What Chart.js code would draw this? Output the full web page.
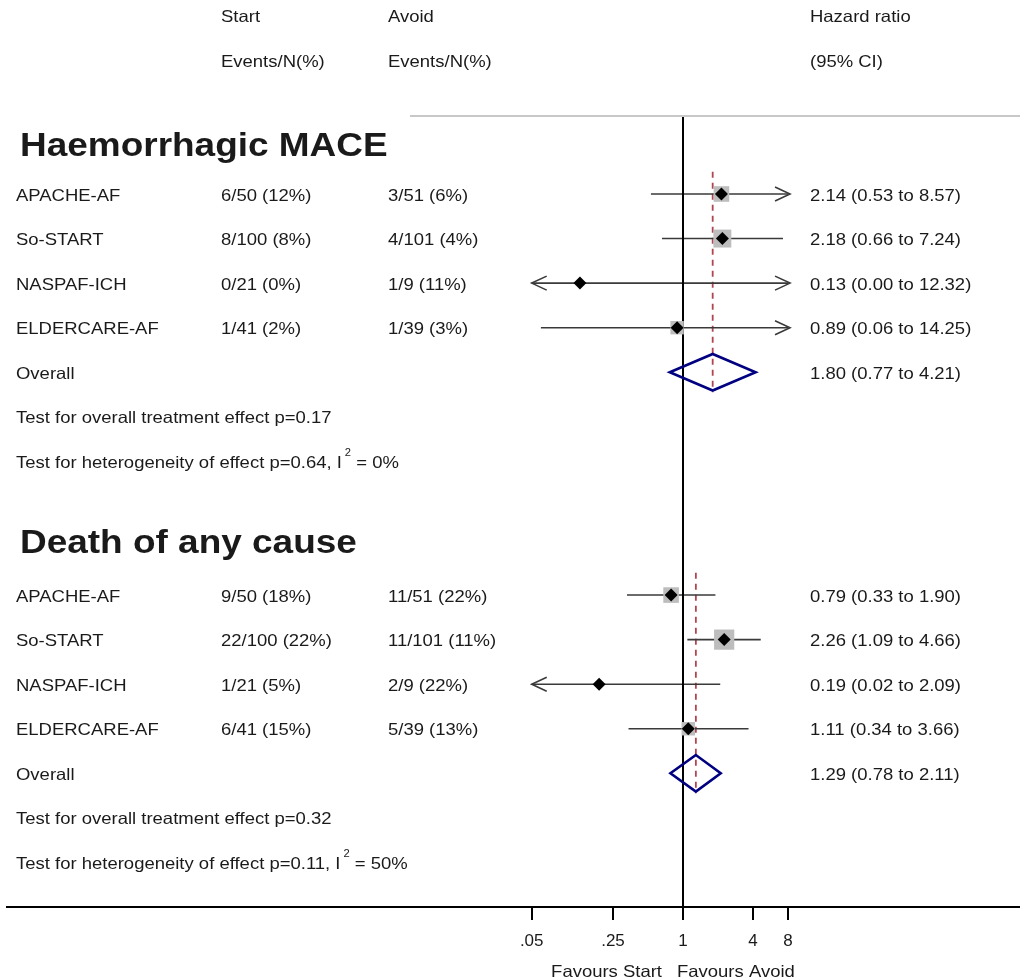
<!DOCTYPE html>
<html>
<head>
<meta charset="utf-8">
<script src="https://cdn.jsdelivr.net/npm/chart.js@4/dist/chart.umd.min.js"></script>
<style>
  html, body { margin: 0; padding: 0; background: #ffffff; }
  #wrap { width: 1020px; height: 980px; position: relative; }
</style>
</head>
<body>
<div id="wrap"><canvas id="forest" width="1020" height="980"></canvas></div>
<script>
// ---- Study data ----
const studies = ['APACHE-AF', 'So-START', 'NASPAF-ICH', 'ELDERCARE-AF'];

// Haemorrhagic MACE
const hmStart  = ['6/50 (12%)', '8/100 (8%)', '0/21 (0%)', '1/41 (2%)'];
const hmAvoid  = ['3/51 (6%)', '4/101 (4%)', '1/9 (11%)', '1/39 (3%)'];
const hmHR     = [2.14, 2.18, 0.13, 0.89];
const hmLo     = [0.53, 0.66, 0.00, 0.06];
const hmHi     = [8.57, 7.24, 12.32, 14.25];
const hmWeight = [31, 41, 4, 23];
const hmOverall = [1.80, 0.77, 4.21];          // estimate, lower, upper
const hmTests   = ['0.17', '0.64', '0%'];       // effect p, heterogeneity p, I²

// Death of any cause
const dStart  = ['9/50 (18%)', '22/100 (22%)', '1/21 (5%)', '6/41 (15%)'];
const dAvoid  = ['11/51 (22%)', '11/101 (11%)', '2/9 (22%)', '5/39 (13%)'];
const dHR     = [0.79, 2.26, 0.19, 1.11];
const dLo     = [0.33, 1.09, 0.02, 0.34];
const dHi     = [1.90, 4.66, 2.09, 3.66];
const dWeight = [31, 52, 4, 23];
const dOverall = [1.29, 0.78, 2.11];
const dTests   = ['0.32', '0.11', '50%'];

// Axis ticks
const tickValues = [0.05, 0.25, 1, 4, 8];
const tickLabels = ['.05', '.25', '1', '4', '8'];

// Column headers
const headStart = ['Start', 'Events/N(%)'];
const headAvoid = ['Avoid', 'Events/N(%)'];
const headHR    = ['Hazard ratio', '(95% CI)'];

// ---- Layout ----
const sections = [
  { title: 'Haemorrhagic MACE', titleRow: -1.1, base: 0, start: hmStart, avoid: hmAvoid,
    hr: hmHR, lo: hmLo, hi: hmHi, w: hmWeight, overall: hmOverall, tests: hmTests },
  { title: 'Death of any cause', titleRow: 7.8, base: 9, start: dStart, avoid: dAvoid,
    hr: dHR, lo: dLo, hi: dHi, w: dWeight, overall: dOverall, tests: dTests }
];

const CLIP_LO = tickValues[0];
const CLIP_HI = tickValues[tickValues.length - 1];
const Y_MIN = -4.3534, Y_MAX = 16;     // row units; 16 is the axis row
const X_MIN = 1.537e-6, X_MAX = 790.7;  // log scale limits
const DIAMOND_H = 0.41;
const FONT = '"Liberation Sans", Arial, Helvetica, sans-serif';
const TEXT_COLOR = '#1a1a1a';
const LINE_COLOR = '#3a3a3a';
const TEXT_SX = 1.12;                   // horizontal stretch of the table lettering
const TEXT_DY = 2;                      // optical centring of lettering on a row

const fmt = v => v.toFixed(2);

// ---- Datasets ----
const datasets = [];

// Line of no effect
datasets.push({
  label: 'null', showLine: true, data: [{ x: 1, y: -1.75 }, { x: 1, y: Y_MAX }],
  borderColor: '#000000', borderWidth: 2, pointRadius: 0, order: 2.5
});

const squarePts = [], squareRad = [], dotPts = [];

sections.forEach(s => {
  s.hr.forEach((v, i) => {
    const row = s.base + i;
    datasets.push({
      label: 'ci', showLine: true,
      data: [{ x: Math.max(s.lo[i], CLIP_LO), y: row }, { x: Math.min(s.hi[i], CLIP_HI), y: row }],
      borderColor: LINE_COLOR, borderWidth: 1.6, pointRadius: 0, order: 3
    });
    squarePts.push({ x: v, y: row });
    squareRad.push(2.8 * Math.sqrt(s.w[i]) / Math.SQRT2);
    dotPts.push({ x: v, y: row });
  });

  const oRow = s.base + 4;
  const [est, lo, hi] = s.overall;
  datasets.push({
    label: 'overall', showLine: true,
    data: [{ x: lo, y: oRow }, { x: est, y: oRow - DIAMOND_H }, { x: hi, y: oRow },
           { x: est, y: oRow + DIAMOND_H }, { x: lo, y: oRow }, { x: est, y: oRow - DIAMOND_H }],
    borderColor: '#000080', borderWidth: 2.6, pointRadius: 0, borderJoinStyle: 'miter',
    tension: 0, order: 2
  });
  datasets.push({
    label: 'pooled', showLine: true,
    data: [{ x: est, y: s.base - 0.5 }, { x: est, y: oRow + 0.45 }],
    borderColor: '#b04552', borderWidth: 1.8, borderDash: [6, 5], pointRadius: 0, order: 4
  });
});

datasets.push({
  label: 'weights', data: squarePts, pointStyle: 'rect', pointRadius: squareRad,
  backgroundColor: '#bdbdbd', borderWidth: 0, order: 1
});
datasets.push({
  label: 'estimates', data: dotPts, pointStyle: 'rectRot', pointRadius: 6.5,
  backgroundColor: '#000000', borderWidth: 0, order: 0
});

// ---- Plugins ----
const arrowPlugin = {
  id: 'ciArrows',
  afterDatasetsDraw(chart) {
    const { ctx, scales: { x, y } } = chart;
    ctx.save();
    ctx.strokeStyle = LINE_COLOR;
    ctx.lineWidth = 1.6;
    sections.forEach(s => {
      s.hr.forEach((v, i) => {
        const py = y.getPixelForValue(s.base + i);
        const heads = [];
        if (s.lo[i] < CLIP_LO) heads.push([x.getPixelForValue(CLIP_LO), 1]);
        if (s.hi[i] > CLIP_HI) heads.push([x.getPixelForValue(CLIP_HI) + 2, -1]);
        heads.forEach(([px, dir]) => {
          ctx.beginPath();
          ctx.moveTo(px + dir * 15, py - 7);
          ctx.lineTo(px, py);
          ctx.lineTo(px + dir * 15, py + 7);
          ctx.stroke();
        });
      });
    });
    ctx.restore();
  }
};

// draws a string with the table's horizontal stretch, returns its drawn width
function putText(ctx, t, px, py, align) {
  const w = ctx.measureText(t).width * TEXT_SX;
  const left = align === 'right' ? px - w : px;
  ctx.save();
  ctx.translate(left, py + TEXT_DY);
  ctx.scale(TEXT_SX, 1);
  ctx.textAlign = 'left';
  ctx.fillText(t, 0, 0);
  ctx.restore();
  return w;
}

const textPlugin = {
  id: 'tableText',
  afterDraw(chart) {
    const { ctx, scales: { x, y }, chartArea } = chart;
    const COL_NAME = 16, COL_START = 221, COL_AVOID = 388, COL_HR = 810;
    const body = '16.5px ' + FONT;
    ctx.save();
    ctx.fillStyle = TEXT_COLOR;
    ctx.textBaseline = 'middle';

    // header separator
    ctx.strokeStyle = '#c8c8c8';
    ctx.lineWidth = 2;
    const sepY = Math.round(y.getPixelForValue(-1.75));
    ctx.beginPath();
    ctx.moveTo(410, sepY);
    ctx.lineTo(chart.width, sepY);
    ctx.stroke();

    ctx.font = body;
    [[COL_START, headStart], [COL_AVOID, headAvoid], [COL_HR, headHR]].forEach(([cx, lines]) => {
      lines.forEach((t, k) => putText(ctx, t, cx, y.getPixelForValue(-4 + k)));
    });

    sections.forEach(s => {
      ctx.font = 'bold 33px ' + FONT;
      putText(ctx, s.title, 20, y.getPixelForValue(s.titleRow));
      ctx.font = body;
      studies.forEach((name, i) => {
        const py = y.getPixelForValue(s.base + i);
        putText(ctx, name, COL_NAME, py);
        putText(ctx, s.start[i], COL_START, py);
        putText(ctx, s.avoid[i], COL_AVOID, py);
        putText(ctx, `${fmt(s.hr[i])} (${fmt(s.lo[i])} to ${fmt(s.hi[i])})`, COL_HR, py);
      });
      const oy = y.getPixelForValue(s.base + 4);
      putText(ctx, 'Overall', COL_NAME, oy);
      putText(ctx, `${fmt(s.overall[0])} (${fmt(s.overall[1])} to ${fmt(s.overall[2])})`, COL_HR, oy);
      putText(ctx, `Test for overall treatment effect p=${s.tests[0]}`, COL_NAME, y.getPixelForValue(s.base + 5));

      const hy = y.getPixelForValue(s.base + 6);
      const lead = `Test for heterogeneity of effect p=${s.tests[1]}, I`;
      let cx = COL_NAME + putText(ctx, lead, COL_NAME, hy) + 3;
      ctx.font = '10px ' + FONT;
      cx += putText(ctx, '2', cx, hy - 10);
      ctx.font = body;
      putText(ctx, ` = ${s.tests[2]}`, cx, hy);
    });

    // direction labels under the axis
    const x1 = x.getPixelForValue(1);
    const fy = chartArea.bottom + 63;
    putText(ctx, 'Favours Start', x1 - 21, fy, 'right');
    putText(ctx, 'Favours Avoid', x1 - 6, fy);
    ctx.restore();
  }
};

new Chart(document.getElementById('forest'), {
  type: 'scatter',
  data: { datasets },
  plugins: [arrowPlugin, textPlugin],
  options: {
    responsive: false,
    animation: false,
    devicePixelRatio: 1,
    layout: { autoPadding: false, padding: { left: 7, right: 0, top: 0, bottom: 0 } },
    plugins: { legend: { display: false }, tooltip: { enabled: false } },
    elements: { line: { tension: 0 } },
    scales: {
      x: {
        type: 'logarithmic',
        min: X_MIN, max: X_MAX,
        afterBuildTicks: scale => { scale.ticks = tickValues.map(v => ({ value: v })); },
        afterFit: scale => { scale.height = 73; },
        ticks: {
          autoSkip: false, maxRotation: 0, padding: 11,
          color: TEXT_COLOR, font: { family: FONT, size: 17 },
          callback: (v, i) => tickLabels[i]
        },
        grid: { display: true, drawOnChartArea: false, drawTicks: true, tickLength: 13,
                color: '#000000', lineWidth: 2 },
        border: { display: true, color: '#000000', width: 2 }
      },
      y: {
        type: 'linear', reverse: true, min: Y_MIN, max: Y_MAX, display: false
      }
    }
  }
});
</script>
</body>
</html>
